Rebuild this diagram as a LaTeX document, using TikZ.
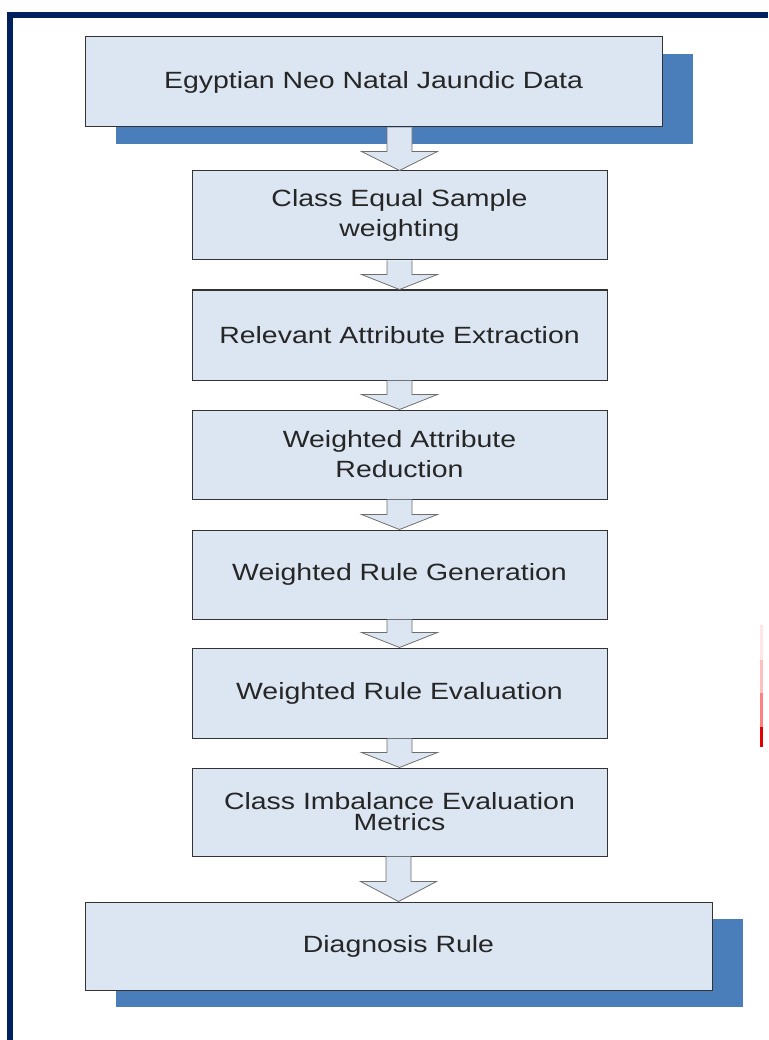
\documentclass[tikz,border=0pt]{standalone}
\usepackage{fontspec}
\setmainfont{Liberation Sans}[FakeStretch=1.21]
\usetikzlibrary{calc,shadows}
\definecolor{framenavy}{RGB}{0, 32, 96}
\definecolor{boxfill}{RGB}{220, 230, 242}
\definecolor{shadowblue}{RGB}{74, 126, 187}
\definecolor{arrowgray}{RGB}{110, 110, 110}

\begin{document}
\begin{tikzpicture}[x=1pt, y=-1pt,
    stage/.style={draw=black!80, fill=boxfill, line width=1pt, minimum width=415pt, minimum height=89pt,
      inner sep=0pt, align=center, text=black!85, font=\fontsize{23.5}{30}\selectfont},
    wide/.style={stage, minimum width=#1, drop shadow={shadow xshift=31pt, shadow yshift=-17pt, fill=shadowblue, opacity=1}},
    flow/.style={draw=arrowgray, fill=boxfill, line width=0.8pt, line join=miter}]
    \useasboundingbox (0,0) rectangle (768,1040);
    \draw[framenavy, line width=6pt] (10,1040) -- (10,15) -- (768,15);

    \node[wide=577pt, minimum height=90pt] (data) at (373.5,82) {Egyptian Neo Natal Jaundic Data};
    \node[stage] (weight) at (399.5,215.5) {Class Equal Sample\\weighting};
    \node[stage, minimum height=90pt] (attr) at (399.5,335) {Relevant Attribute Extraction};
    \node[stage] (reduce) at (399.5,454.5) {Weighted Attribute\\Reduction};
    \node[stage] (rulegen) at (399.5,574.5) {Weighted Rule Generation};
    \node[stage, minimum height=90pt] (ruleeval) at (399.5,693) {Weighted Rule Evaluation};
    \node[stage, minimum height=88pt, font=\fontsize{23.5}{21}\selectfont] (metrics) at (399.5,812) {Class Imbalance Evaluation\\Metrics};
    \node[wide=627pt, minimum height=88pt] (diag) at (398.5,946) {Diagnosis Rule};

    % block arrows between the stages
    \foreach \from/\to/\hd in {data/weight/19, weight/attr/15, attr/reduce/15, reduce/rulegen/15,
        rulegen/ruleeval/15, ruleeval/metrics/15, metrics/diag/20}
      \draw[flow] ($(\from.south -| \to.north)+(-12.5,0)$) -- ($(\to.north)+(-12.5,-\hd)$)
        -- ($(\to.north)+(-38,-\hd)$) -- (\to.north) -- ($(\to.north)+(38,-\hd)$)
        -- ($(\to.north)+(12.5,-\hd)$) -- ($(\from.south -| \to.north)+(12.5,0)$);

    \foreach \ya/\yb/\c in {625/660/red!10, 660/693/red!25, 693/727/red!50, 727/747/red!90!black}
      \draw[\c, line width=3pt] (761.5,\ya) -- (761.5,\yb);
\end{tikzpicture}
\end{document}
